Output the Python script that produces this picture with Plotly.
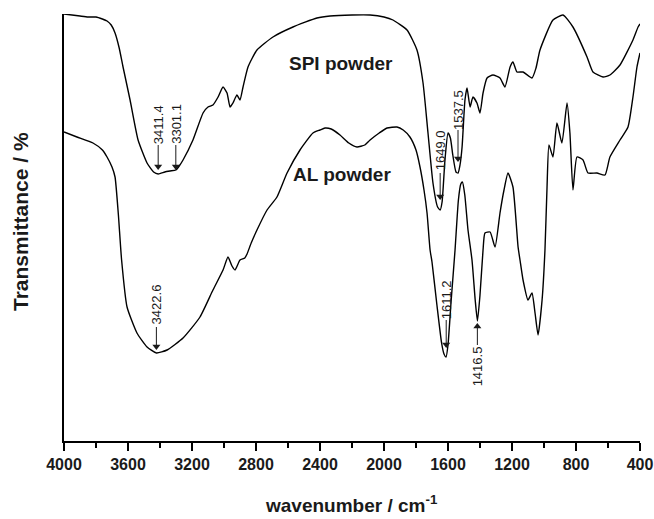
import plotly.graph_objects as go

# ---- data (arbitrary transmittance units) ----
spi_wn = [4000, 3950, 3900, 3850, 3800, 3760, 3731, 3705, 3681, 3655, 3631, 3587, 3537, 3481,
          3440, 3411, 3370, 3337, 3301, 3280, 3256, 3194, 3131, 3100, 3069, 3037, 3006, 2981,
          2962, 2944, 2919, 2900, 2881, 2850, 2794, 2694, 2569, 2419, 2337, 2200, 2087, 2000,
          1944, 1856, 1794, 1756, 1725, 1694, 1665, 1649, 1637, 1619, 1600, 1585, 1570, 1550,
          1537, 1525, 1512, 1494, 1481, 1462, 1444, 1419, 1400, 1381, 1356, 1319, 1275, 1244,
          1212, 1194, 1169, 1131, 1075, 1050, 1025, 944, 881, 819, 731, 694, 631, 588, 525,
          444, 412, 400]
spi_t = [427, 426, 425, 424, 424, 422, 420, 416, 408, 393, 374, 341, 301, 278,
         269, 267, 269, 270, 271, 275, 281, 301, 328, 334, 336, 344, 354, 348,
         334, 338, 346, 341, 354, 374, 391, 404, 414, 423, 425, 426, 426, 424,
         421, 411, 391, 358, 308, 258, 234, 231, 239, 281, 308, 303, 286, 269,
         268, 276, 294, 341, 353, 334, 344, 338, 328, 348, 363, 366, 363, 354,
         374, 379, 369, 369, 363, 373, 391, 421, 426, 414, 384, 369, 364, 366, 376,
         401, 414, 417]

al_wn = [4000, 3919, 3819, 3760, 3731, 3700, 3681, 3660, 3640, 3606, 3544, 3481, 3422, 3356,
         3256, 3150, 3069, 3006, 2975, 2950, 2931, 2900, 2870, 2856, 2830, 2794, 2731, 2669,
         2606, 2525, 2444, 2400, 2369, 2330, 2275, 2220, 2169, 2120, 2087, 2030, 1981, 1919,
         1880, 1838, 1800, 1775, 1750, 1731, 1712, 1700, 1670, 1640, 1625, 1612, 1600, 1580,
         1556, 1535, 1520, 1510, 1495, 1475, 1450, 1430, 1416, 1400, 1381, 1369, 1337, 1306,
         1275, 1250, 1225, 1194, 1162, 1150, 1131, 1100, 1075, 1056, 1037, 1012, 994, 981,
         969, 944, 919, 888, 856, 838, 819, 794, 756, 725, 669, 619, 588, 525, 475, 444, 419, 400]
al_t = [309, 304, 298, 291, 284, 274, 264, 226, 181, 134, 108, 94, 88, 91,
        103, 124, 151, 171, 184, 175, 171, 181, 183, 187, 198, 211, 231, 244,
        268, 291, 308, 311, 313, 312, 306, 298, 294, 296, 301, 308, 313, 314,
        311, 304, 291, 274, 251, 228, 191, 179, 137, 98, 87, 84, 96, 141,
        191, 241, 257, 259, 246, 211, 181, 141, 120, 146, 191, 208, 209, 194,
        228, 251, 268, 254, 194, 181, 161, 141, 148, 128, 106, 141, 191, 254,
        296, 284, 318, 298, 338, 308, 251, 284, 281, 268, 268, 266, 284, 301, 314, 344, 374, 388]

tick_vals = [4000, 3600, 3200, 2800, 2400, 2000, 1600, 1200, 800, 400]
tick_text = ["4000", "3600", "3200", "2800", "2400", "2000", "1600", "1200", "800", "400"]

# peak labels: wavenumber, text y, arrow tail y, arrow head y
peak_labels = ["3411.4", "3301.1", "1649.0", "1537.5", "3422.6", "1611.2", "1416.5"]
peak_wn = [3411.4, 3301.1, 1649.0, 1537.5, 3422.6, 1611.2, 1416.5]
peak_text_y = [316, 317, 291, 331, 137, 141, 75]
peak_tail_y = [296, 296, 268, 311, 114, 121, 96]
peak_head_y = [271, 271, 241, 279, 91, 93, 118]

series_names = ["SPI powder", "AL powder"]

FONT = "Liberation Sans, Arial, sans-serif"
INK = "#1a1a1a"

fig = go.Figure()
for wn, t, nm in [(spi_wn, spi_t, series_names[0]), (al_wn, al_t, series_names[1])]:
    fig.add_trace(go.Scatter(x=wn, y=t, mode="lines", name=nm,
                             line=dict(color="black", width=1.4, shape="spline", smoothing=0.5),
                             showlegend=False, hoverinfo="skip"))

# arrows: stems as shapes, heads as triangle markers
shapes = []
head_x, head_y, head_sym = [], [], []
for wn, tail, head in zip(peak_wn, peak_tail_y, peak_head_y):
    down = head < tail
    shapes.append(dict(type="line", xref="x", yref="y", x0=wn, x1=wn, y0=tail,
                       y1=head + (4 if down else -4), line=dict(color=INK, width=1)))
    head_x.append(wn)
    head_y.append(head + (3.5 if down else -3.5))
    head_sym.append("triangle-down" if down else "triangle-up")
fig.add_trace(go.Scatter(x=head_x, y=head_y, mode="markers", showlegend=False, hoverinfo="skip",
                         marker=dict(symbol=head_sym, size=7, color=INK, line=dict(width=0))))

annotations = []
for lab, wn, ty in zip(peak_labels, peak_wn, peak_text_y):
    annotations.append(dict(x=wn, y=ty, xref="x", yref="y", text=lab, showarrow=False,
                            textangle=-90, xanchor="center", yanchor="middle",
                            font=dict(family=FONT, size=13, color=INK)))

# series labels
annotations.append(dict(x=(341 - 64) / 576, y=(441 - 51) / 427, xref="paper", yref="paper",
                        text="<b>SPI powder</b>", showarrow=False,
                        font=dict(family=FONT, size=19, color=INK)))
annotations.append(dict(x=(342 - 64) / 576, y=(441 - 174) / 427, xref="paper", yref="paper",
                        text="<b>AL powder</b>", showarrow=False,
                        font=dict(family=FONT, size=19, color=INK)))
# axis titles
annotations.append(dict(x=(351 - 64) / 576, y=(441 - 504) / 427, xref="paper", yref="paper",
                        text="<b>wavenumber / cm<sup>-1</sup></b>", showarrow=False,
                        xanchor="center", yanchor="middle",
                        font=dict(family=FONT, size=19, color=INK)))
annotations.append(dict(x=(20 - 64) / 576, y=(441 - 222) / 427, xref="paper", yref="paper",
                        text="<b>Transmittance / %</b>", showarrow=False, textangle=-90,
                        xanchor="center", yanchor="middle",
                        font=dict(family=FONT, size=21, color=INK)))

fig.update_layout(
    width=654, height=519,
    margin=dict(l=64, r=14, t=14, b=78),
    paper_bgcolor="white", plot_bgcolor="white",
    annotations=annotations, shapes=shapes,
    xaxis=dict(range=[4000, 400], tickvals=tick_vals, ticktext=tick_text,
               ticks="outside", ticklen=8, tickwidth=2, tickcolor="black",
               showline=True, linewidth=2, linecolor="black", showgrid=False, zeroline=False,
               ticklabeloverflow="allow", automargin=False,
               tickfont=dict(family=FONT, size=16, color=INK, weight="bold"),
               minor=dict(dtick=200, ticks="outside", ticklen=5, tickwidth=2, tickcolor="black",
                          showgrid=False)),
    yaxis=dict(range=[0, 427], showticklabels=False, ticks="", showline=True, linewidth=2,
               linecolor="black", showgrid=False, zeroline=False, automargin=False),
)

fig.write_html("out.html")
